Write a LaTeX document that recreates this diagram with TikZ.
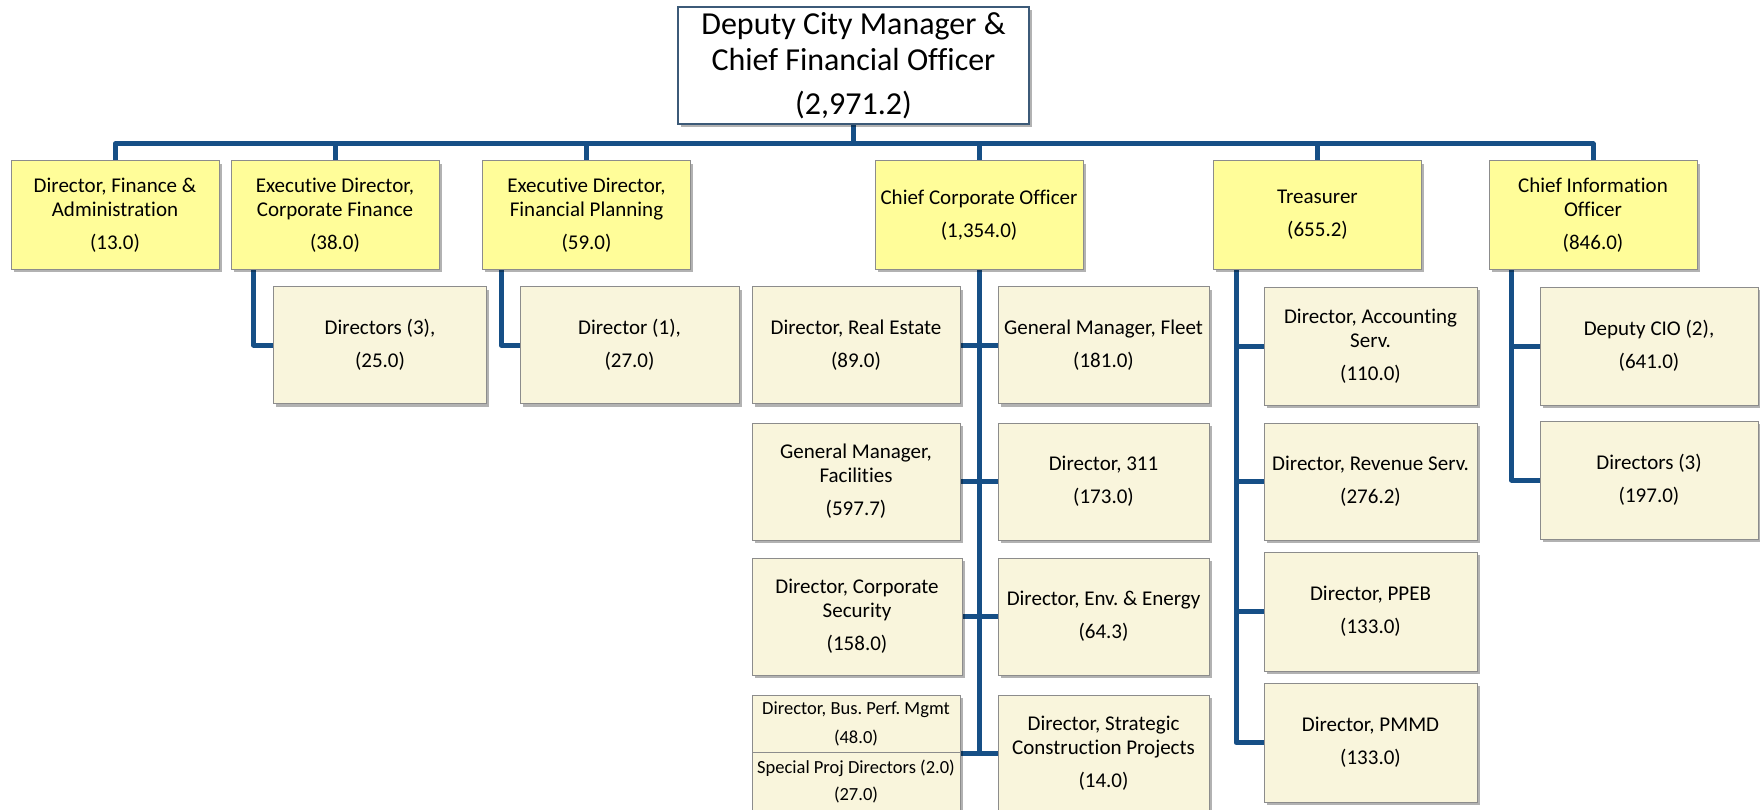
\documentclass[tikz,border=0pt]{standalone}
\usepackage{fontspec}
\setmainfont{Carlito}[RawFeature={-liga;-clig;-calt;-dlig;-hlig}]
\usetikzlibrary{shadows}
\definecolor{conncol}{RGB}{22,79,134}
\definecolor{ylw}{RGB}{255,253,153}
\definecolor{crm}{RGB}{249,245,220}
\definecolor{boxline}{RGB}{140,140,140}
\definecolor{topline}{RGB}{60,90,120}
\pgfdeclarelayer{bg}
\pgfsetlayers{bg,main}
\frenchspacing
\begin{document}
\begin{tikzpicture}[x=1pt,y=-1pt,
  box/.style={draw=boxline, line width=1pt, align=center, inner sep=0pt, text=black,
    drop shadow={shadow xshift=2.5pt,shadow yshift=-3pt,fill=black,opacity=0.3}},
  topbox/.style={box, draw=topline, line width=1.8pt, fill=white, minimum width=351pt,
    minimum height=117pt, font=\fontsize{32}{36}\selectfont},
  headbox/.style={box, fill=ylw, minimum width=208pt, minimum height=108pt,
    font=\fontsize{21}{24}\selectfont},
  subbox/.style={box, fill=crm, minimum height=117pt, font=\fontsize{21}{24}\selectfont},
  smallbox/.style={box, fill=crm, minimum width=208pt, minimum height=57.5pt,
    font=\fontsize{18.5}{21}\selectfont},
  conn/.style={draw=conncol, line width=5pt, line join=round}
]
\useasboundingbox (0,0) rectangle (1760,810);

% top
\node[topbox] (top) at (853.5,65.5) {Deputy City Manager \&\\Chief Financial Officer\\[8pt](2,971.2)};

% level 1
\node[headbox] (b1) at (115,215) {Director, Finance \&\\Administration\\[9pt](13.0)};
\node[headbox] (b2) at (335,215) {Executive Director,\\Corporate Finance\\[9pt](38.0)};
\node[headbox] (b3) at (586.5,215) {Executive Director,\\Financial Planning\\[9pt](59.0)};
\node[headbox] (b4) at (979,215) {Chief Corporate Officer\\[9pt](1,354.0)};
\node[headbox] (b5) at (1317.5,215) {Treasurer\\[9pt](655.2)};
\node[headbox] (b6) at (1593,215) {Chief Information\\Officer\\[9pt](846.0)};

% under corporate finance / financial planning
\node[subbox, minimum width=213pt] (cf1) at (380,345) {Directors (3),\\[9pt](25.0)};
\node[subbox, minimum width=219pt] (fp1) at (629.5,345) {Director (1),\\[9pt](27.0)};

% under chief corporate officer
\node[subbox, minimum width=208pt] (re) at (856,345) {Director, Real Estate\\[9pt](89.0)};
\node[subbox, minimum width=211pt] (fl) at (1103.5,345) {General Manager, Fleet\\[9pt](181.0)};
\node[subbox, minimum width=208pt] (fa) at (856,481.5) {General Manager,\\Facilities\\[9pt](597.7)};
\node[subbox, minimum width=211pt] (d311) at (1103.5,481.5) {Director, 311\\[9pt](173.0)};
\node[subbox, minimum width=210pt] (cs) at (857,616.5) {Director, Corporate\\Security\\[9pt](158.0)};
\node[subbox, minimum width=211pt] (ee) at (1103.5,616.5) {Director, Env. \& Energy\\[9pt](64.3)};
\node[smallbox] (bp) at (856,723.75) {Director, Bus. Perf. Mgmt\\[8pt](48.0)};
\node[smallbox] (sp) at (856,781.25) {Special Proj Directors (2.0)\\[6pt](27.0)};
\node[subbox, minimum width=211pt] (scp) at (1103.5,753.5) {Director, Strategic\\Construction Projects\\[9pt](14.0)};

% under treasurer
\node[subbox, minimum width=213pt, minimum height=118pt] (tr1) at (1370.5,346) {Director, Accounting\\Serv.\\[9pt](110.0)};
\node[subbox, minimum width=213pt] (tr2) at (1370.5,481.5) {Director, Revenue Serv.\\[9pt](276.2)};
\node[subbox, minimum width=213pt, minimum height=119pt] (tr3) at (1370.5,611.5) {Director, PPEB\\[9pt](133.0)};
\node[subbox, minimum width=213pt, minimum height=119pt] (tr4) at (1370.5,742.5) {Director, PMMD\\[9pt](133.0)};

% under CIO
\node[subbox, minimum width=218pt, minimum height=118pt] (ci1) at (1649,346) {Deputy CIO (2),\\[9pt](641.0)};
\node[subbox, minimum width=218pt, minimum height=118pt] (ci2) at (1649,480) {Directors (3)\\[9pt](197.0)};

\coordinate (bus) at (853.5,144);

\begin{pgfonlayer}{bg}
\draw[conn] (top.south) -- (bus);
\foreach \n in {b1,b2,b3,b4,b5,b6} \draw[conn] (bus) -| (\n.north);
\draw[conn] ([xshift=23pt]b2.south west) |- (cf1.west);
\draw[conn] ([xshift=19pt]b3.south west) |- (fp1.west);
\draw[conn] (b4.south) -- (b4.south |- bp.south east);
\draw[conn] (re.east) -- (fl.west);
\draw[conn] (fa.east) -- (d311.west);
\draw[conn] (cs.east) -- (ee.west);
\draw[conn] (bp.south east) -- (bp.south east -| scp.west);
\foreach \t in {tr1,tr2,tr3,tr4} \draw[conn] ([xshift=23pt]b5.south west) |- (\t.west);
\foreach \t in {ci1,ci2} \draw[conn] ([xshift=23pt]b6.south west) |- (\t.west);
\end{pgfonlayer}
\end{tikzpicture}
\end{document}
